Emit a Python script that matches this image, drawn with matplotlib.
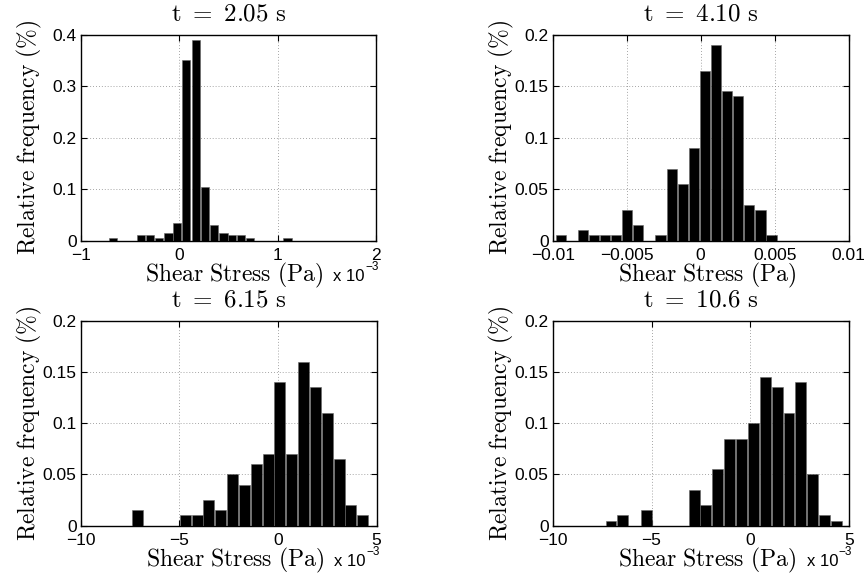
import numpy as np
import matplotlib
matplotlib.use("Agg")
import matplotlib.pyplot as plt

plt.rcParams['mathtext.fontset'] = 'cm'
plt.rcParams['font.family'] = 'Liberation Sans'

# bin centres and relative frequencies
centers_1 = [-0.67, -0.58, -0.49, -0.39, -0.30, -0.21, -0.11, -0.02, 0.07, 0.17,
             0.26, 0.35, 0.45, 0.54, 0.63, 0.72, 0.82, 0.91, 1.00, 1.10]
freq_1 = [0.005, 0, 0, 0.01, 0.01, 0.005, 0.015, 0.035, 0.35, 0.39,
          0.105, 0.03, 0.015, 0.01, 0.01, 0.005, 0, 0, 0, 0.005]

centers_2 = [-0.00946, -0.00871, -0.00796, -0.00721, -0.00646, -0.00571, -0.00496,
             -0.00421, -0.00346, -0.00271, -0.00196, -0.00121, -0.00046, 0.00029,
             0.00104, 0.00179, 0.00254, 0.00329, 0.00404, 0.00479]
freq_2 = [0.005, 0, 0.01, 0.005, 0.005, 0.005, 0.03, 0.015, 0, 0.005,
          0.07, 0.055, 0.09, 0.165, 0.19, 0.145, 0.14, 0.035, 0.03, 0.005]

centers_3 = [-7.10, -6.50, -5.90, -5.30, -4.70, -4.10, -3.50, -2.90, -2.30, -1.70,
             -1.10, -0.50, 0.10, 0.70, 1.30, 1.90, 2.50, 3.10, 3.70, 4.30]
freq_3 = [0.015, 0, 0, 0, 0.01, 0.01, 0.025, 0.015, 0.05, 0.04,
          0.06, 0.07, 0.14, 0.07, 0.16, 0.135, 0.11, 0.065, 0.02, 0.01]

centers_4 = [-7.05, -6.45, -5.85, -5.25, -4.65, -4.05, -3.45, -2.85, -2.25, -1.65,
             -1.05, -0.45, 0.15, 0.75, 1.35, 1.95, 2.55, 3.15, 3.75, 4.35]
freq_4 = [0.005, 0.01, 0, 0.015, 0, 0, 0, 0.035, 0.02, 0.055,
          0.085, 0.085, 0.10, 0.145, 0.135, 0.11, 0.14, 0.05, 0.01, 0.005]

titles = ['t = 2.05 s', 't = 4.10 s', 't = 6.15 s', 't = 10.6 s']

xticks_1 = [-1, 0, 1, 2]
xticks_2 = [-0.01, -0.005, 0, 0.005, 0.01]
xticklabels_2 = ['\u22120.01', '\u22120.005', '0', '0.005', '0.01']
xticks_34 = [-10, -5, 0, 5]
yticks_a = [0, 0.1, 0.2, 0.3, 0.4]
yticklabels_a = ['0', '0.1', '0.2', '0.3', '0.4']
yticks_b = [0, 0.05, 0.1, 0.15, 0.2]
yticklabels_b = ['0', '0.05', '0.1', '0.15', '0.2']

panels = [
    (centers_1, freq_1, (-1, 2), xticks_1, None, yticks_a, yticklabels_a, True),
    (centers_2, freq_2, (-0.01, 0.01), xticks_2, xticklabels_2, yticks_b, yticklabels_b, False),
    (centers_3, freq_3, (-10, 5), xticks_34, None, yticks_b, yticklabels_b, True),
    (centers_4, freq_4, (-10, 5), xticks_34, None, yticks_b, yticklabels_b, True),
]

# axes rectangles in figure fraction (left, bottom, width, height)
rects = [
    (0.0935, 0.5830, 0.3406, 0.3570),
    (0.6382, 0.5830, 0.3418, 0.3570),
    (0.0932, 0.0889, 0.3416, 0.3553),
    (0.6382, 0.0889, 0.3425, 0.3553),
]

fig = plt.figure(figsize=(8.66, 5.77), dpi=100)

for i, (cx, fr, xlim, xt, xtl, yt, ytl, scaled) in enumerate(panels):
    ax = fig.add_axes(rects[i])
    w = 0.92 * (cx[1] - cx[0])
    ax.bar(cx, fr, width=w, color='black', edgecolor='#666666', linewidth=0.4, zorder=3)
    ax.set_xlim(*xlim)
    ax.set_ylim(yt[0], yt[-1])
    ax.set_xticks(xt)
    if xtl is not None:
        ax.set_xticklabels(xtl)
    ax.set_yticks(yt)
    ax.set_yticklabels(ytl)
    ax.tick_params(direction='in', top=True, right=True, length=4, width=0.8,
                   labelsize=12.5, pad=3)
    ax.tick_params(axis='x', pad=5)
    ax.grid(True, linestyle=(0, (1, 2.5)), color='#888888', linewidth=0.6, zorder=0)
    for s in ax.spines.values():
        s.set_linewidth(1.0)
    ax.set_title(r'$\mathrm{' + titles[i].replace(' ', r'\ ') + '}$', fontsize=18, pad=10)
    ax.set_xlabel(r'$\mathrm{Shear\ Stress\ (Pa)}$', fontsize=17, va='top')
    ax.xaxis.set_label_coords(0.52, -0.10)
    ax.set_ylabel(r'$\mathrm{Relative\ frequency\ (\%)}$', fontsize=17)
    ax.yaxis.set_label_coords(-0.125, 0.5)
    if scaled:
        ax.text(0.962, -0.195, 'x 10', transform=ax.transAxes, ha='right',
                va='baseline', fontsize=12)
        ax.text(0.965, -0.145, '\u22123', transform=ax.transAxes, ha='left',
                va='baseline', fontsize=8.5)

fig.savefig('out.png', dpi=100)
